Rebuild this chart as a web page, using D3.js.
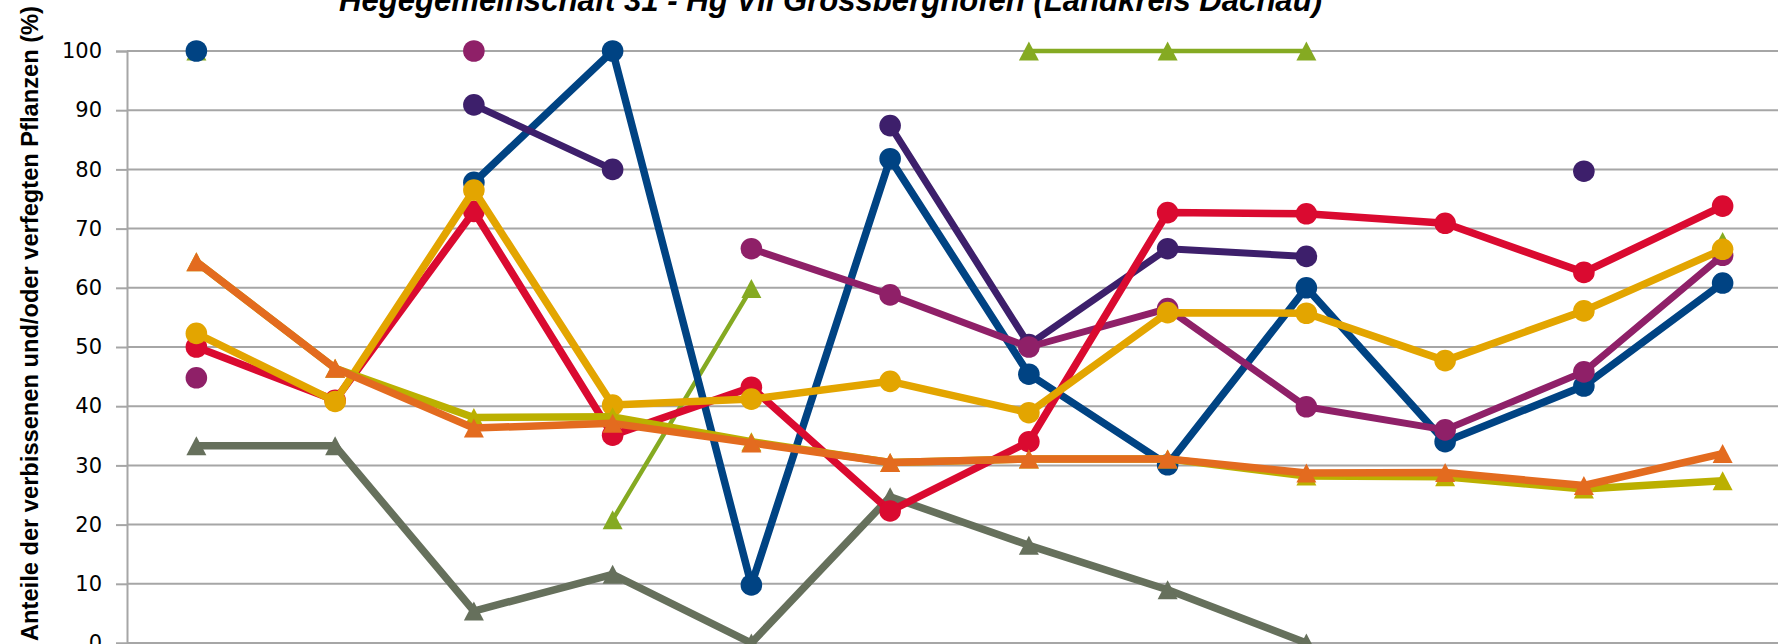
<!DOCTYPE html>
<html><head><meta charset="utf-8">
<script src="https://cdn.jsdelivr.net/npm/d3@7/dist/d3.min.js"></script>
<style>html,body{margin:0;padding:0;background:#fff;overflow:hidden}</style>
</head><body>
<svg id="chart" width="1778" height="644"></svg>
<script>
// ---- data ----
const title = "Hegegemeinschaft 31 - Hg VII Grossberghofen (Landkreis Dachau)";
const yAxisTitle = "Anteile der verbissenen und/oder verfegten Pflanzen (%)";
const categories = ["1","2","3","4","5","6","7","8","9","10","11","12"];
const yTicks = [0,10,20,30,40,50,60,70,80,90,100];

const seriesGray    = [33.3, 33.3, 5.4, 11.6, 0, 24.7, 16.5, 9.0, 0, null, null, null];
const seriesGreen   = [100, null, null, 20.8, 59.9, null, 100, 100, 100, null, null, 67.8];
const seriesBlue    = [100, null, 77.8, 100, 9.8, 81.8, 45.4, 30.1, 60.0, 34.0, 43.4, 60.8];
const seriesPurple  = [null, null, 90.9, 80.0, null, 87.4, 50.4, 66.6, 65.3, null, 79.7, null];
const seriesMagenta = [44.8, null, 100, null, 66.6, 58.8, 50.0, 56.5, 39.9, 36.0, 45.8, 65.5];
const seriesRed     = [50.0, 41.0, 72.9, 35.1, 43.2, 22.3, 34.0, 72.7, 72.5, 70.9, 62.6, 73.8];
const seriesYellow  = [52.3, 40.8, 76.5, 40.2, 41.2, 44.2, 38.9, 55.8, 55.7, 47.7, 56.1, 66.5];
const seriesOlive   = [64.4, 46.4, 38.1, 38.2, 34.0, 30.5, 31.1, 31.1, 28.2, 28.1, 26.0, 27.4];
const seriesOrange  = [64.4, 46.4, 36.3, 37.1, 33.8, 30.5, 31.1, 31.1, 28.7, 28.8, 26.6, 32.0];

// drawing order: bottom -> top
const series = [
  {values: seriesGray,    color: "#66705c", marker: "tri",    width: 7.5},
  {values: seriesGreen,   color: "#85aa22", marker: "tri",    width: 4.5},
  {values: seriesBlue,    color: "#004383", marker: "circle", width: 7.5},
  {values: seriesPurple,  color: "#3d1f6b", marker: "circle", width: 7},
  {values: seriesMagenta, color: "#8f2068", marker: "circle", width: 7},
  {values: seriesRed,     color: "#da0a30", marker: "circle", width: 7.5},
  {values: seriesYellow,  color: "#e3a500", marker: "circle", width: 7.5},
  {values: seriesOlive,   color: "#bbb000", marker: "tri",    width: 7.5},
  {values: seriesOrange,  color: "#e36b1f", marker: "tri",    width: 7.5}
];

// ---- layout ----
const svg = d3.select("#chart");
const plotLeft = 127, plotTop = 51, plotBottom = 643;
const step = 138.75;
const x = d3.scaleBand().domain(categories).range([plotLeft, plotLeft + step * categories.length]);
const cx = i => x(categories[i]) + x.bandwidth() / 2;
const y = d3.scaleLinear().domain([0, 100]).range([plotBottom, plotTop]);
const gridColor = "#a6a6a6";

// gridlines
svg.append("g").selectAll("line").data(yTicks).join("line")
  .attr("x1", plotLeft).attr("x2", 1778)
  .attr("y1", d => y(d)).attr("y2", d => y(d))
  .attr("stroke", gridColor).attr("stroke-width", 2);

// y axis
const yAxis = d3.axisLeft(y).tickValues(yTicks).tickSize(11).tickPadding(14);
const gy = svg.append("g").attr("transform", `translate(${plotLeft},0)`).call(yAxis);
gy.select(".domain").attr("stroke", gridColor).attr("stroke-width", 2);
gy.selectAll(".tick line").attr("stroke", gridColor).attr("stroke-width", 2);
gy.selectAll(".tick text")
  .attr("font-family", "DejaVu Sans, Verdana, sans-serif")
  .attr("font-size", 21).attr("fill", "#000");

// x axis (labels lie below the visible area)
const xAxis = d3.axisBottom(x).tickSize(0).tickFormat(() => "");
const gx = svg.append("g").attr("transform", `translate(0,${plotBottom})`).call(xAxis);
gx.select(".domain").attr("stroke", gridColor).attr("stroke-width", 2);

// series
const line = d3.line()
  .defined(d => d.v !== null)
  .x(d => cx(d.i)).y(d => y(d.v));

const triPath = (w, h) => `M0,${-h/2}L${w/2},${h/2}L${-w/2},${h/2}Z`;

series.forEach(s => {
  const pts = s.values.map((v, i) => ({v, i}));
  const g = svg.append("g");
  g.append("path").datum(pts)
    .attr("d", line).attr("fill", "none")
    .attr("stroke", s.color).attr("stroke-width", s.width)
    .attr("stroke-linejoin", "round");
  const valid = pts.filter(d => d.v !== null);
  if (s.marker === "circle") {
    g.selectAll("circle").data(valid).join("circle")
      .attr("cx", d => cx(d.i)).attr("cy", d => y(d.v))
      .attr("r", 10.8).attr("fill", s.color);
  } else {
    g.selectAll("path.m").data(valid).join("path").attr("class", "m")
      .attr("transform", d => `translate(${cx(d.i)},${y(d.v)})`)
      .attr("d", triPath(20, 19)).attr("fill", s.color);
  }
});

// y axis title
svg.append("text")
  .attr("transform", "translate(38,323.5) rotate(-90)")
  .attr("text-anchor", "middle")
  .attr("font-family", "Liberation Sans, Arial, sans-serif")
  .attr("font-weight", "bold").attr("font-size", 23)
  .attr("textLength", 635).attr("lengthAdjust", "spacingAndGlyphs")
  .attr("fill", "#000")
  .text(yAxisTitle);

// chart title (cut at top in the reference)
svg.append("text")
  .attr("x", 830.5).attr("y", 10.5)
  .attr("text-anchor", "middle")
  .attr("font-family", "Liberation Sans, Arial, sans-serif")
  .attr("font-weight", "bold").attr("font-style", "italic").attr("font-size", 32)
  .attr("textLength", 983).attr("lengthAdjust", "spacingAndGlyphs")
  .attr("fill", "#000")
  .text(title);
</script>
</body></html>
